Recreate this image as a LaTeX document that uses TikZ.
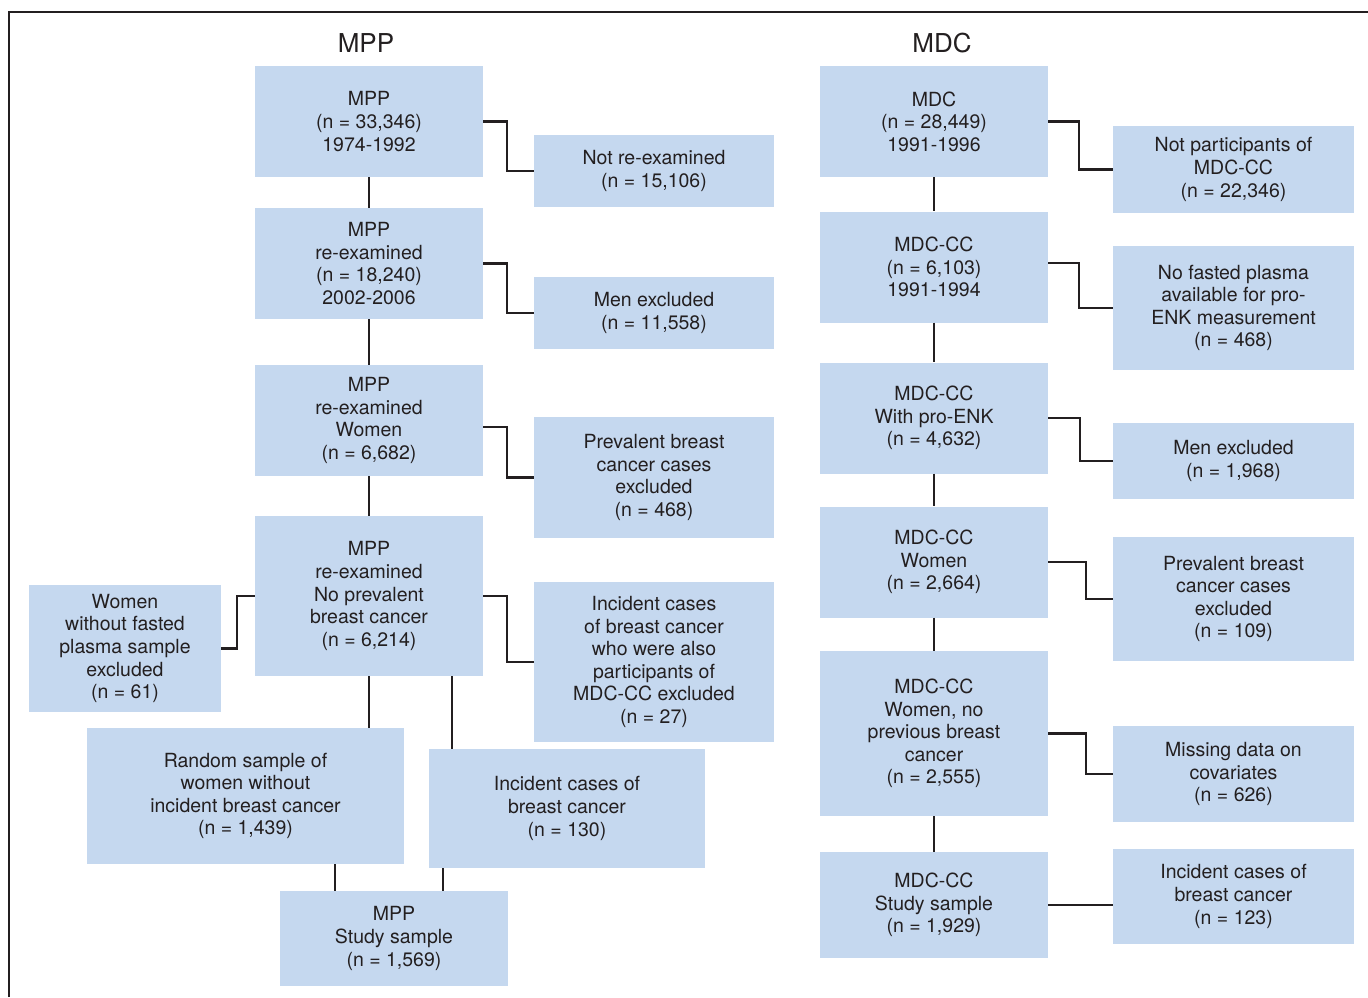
\documentclass[tikz,border=0pt]{standalone}
\usepackage{fontspec}
\setmainfont{TeX Gyre Heros}
\usepackage{xcolor}
\usetikzlibrary{calc, positioning}

\definecolor{boxblue}{RGB}{197,216,239}
\definecolor{inkgray}{RGB}{35,31,32}

\begin{document}
\begin{tikzpicture}[x=1pt, y=-1pt,
  every node/.style={text=inkgray, font={\fontsize{19.5}{22.6}\selectfont}},
  box/.style={fill=boxblue, align=center, inner sep=0pt},
  boxsize/.style 2 args={minimum width=#1pt, minimum height=#2pt},
  stage/.style={box, boxsize={228}{111}},
  excl/.style={box, minimum width=240pt},
  title/.style={font={\fontsize{26}{30}\selectfont}},
  link/.style={draw=inkgray, line width=2.5pt},
  elbow/.style={to path={-- ++(#1,0) |- (\tikztotarget)}},
  elbow/.default=24]

  \useasboundingbox (0,0) rectangle (1368,997);
  \draw [inkgray, line width=1.2pt] (9,997) |- (1368,12);

  % Titles of the two cohorts
  \node [title] (mpptitle) at (366,43) {MPP};
  \node [title] (mdctitle) at (942,43) {MDC};

  % MPP cohort: stages down the left column
  \node [stage] (mpp) at (369,121.5) {MPP\\(n = 33,346)\\1974-1992};
  \node [stage] (mppre) at (369,263.5)
    {MPP\\re-examined\\(n = 18,240)\\2002-2006};
  \node [stage] (mppwomen) at (369,420.5)
    {MPP\\re-examined\\Women\\(n = 6,682)};
  \node [stage, minimum height=160pt] (mppnoprev) at (369,596)
    {MPP\\re-examined\\No prevalent\\breast cancer\\(n = 6,214)};
  \node [box, boxsize={317}{136}] (mpprand) at (245.5,796)
    {Random sample of\\women without\\incident breast cancer\\(n = 1,439)};
  \node [box, boxsize={276}{119}] (mppinc) at (567,808.5)
    {Incident cases of\\breast cancer\\(n = 130)};
  \node [box, boxsize={228}{95}] (mppstudy) at (394,938.5)
    {MPP\\Study sample\\(n = 1,569)};

  % MPP cohort: exclusions
  \node [excl, minimum height=72pt] (notre) at (654,171)
    {Not re-examined\\(n = 15,106)};
  \node [excl, minimum height=72pt] (mppmen) at (654,313)
    {Men excluded\\(n = 11,558)};
  \node [excl, minimum height=121pt] (mppprev) at (654,477.5)
    {Prevalent breast\\cancer cases\\excluded\\(n = 468)};
  \node [excl, minimum height=160pt] (mppmdc) at (654,662)
    {Incident cases\\of breast cancer\\who were also\\participants of\\MDC-CC excluded\\(n = 27)};
  \node [box, boxsize={192}{127}] (nofasted) at (125,648.5)
    {Women\\without fasted\\plasma sample\\excluded\\(n = 61)};

  % MDC cohort: stages down the middle column
  \node [stage] (mdc) at (934,121.5) {MDC\\(n = 28,449)\\1991-1996};
  \node [stage] (mdccc) at (934,267) {MDC-CC\\(n = 6,103)\\1991-1994};
  \node [stage] (mdcenk) at (934,418) {MDC-CC\\With pro-ENK\\(n = 4,632)};
  \node [stage] (mdcwomen) at (934,562) {MDC-CC\\Women\\(n = 2,664)};
  \node [stage, minimum height=165pt] (mdcnoprev) at (934,733.5)
    {MDC-CC\\Women, no\\previous breast\\cancer\\(n = 2,555)};
  \node [stage, minimum height=106pt] (mdcstudy) at (934,905)
    {MDC-CC\\Study sample\\(n = 1,929)};

  % MDC cohort: exclusions
  \begin{scope}[excl/.append style={minimum width=241pt}]
    \node [excl, minimum height=87pt] (notcc) at (1233.5,169.5)
      {Not participants of\\MDC-CC\\(n = 22,346)};
    \node [excl, minimum height=124pt] (noplasma) at (1233.5,308)
      {No fasted plasma\\available for pro-\\ENK measurement\\(n = 468)};
    \node [excl, minimum height=76pt] (mdcmen) at (1233.5,461)
      {Men excluded\\(n = 1,968)};
    \node [excl, minimum height=124pt] (mdcprev) at (1233.5,599)
      {Prevalent breast\\cancer cases\\excluded\\(n = 109)};
    \node [excl, minimum height=96pt] (missing) at (1233.5,774)
      {Missing data on\\covariates\\(n = 626)};
    \node [excl, minimum height=95pt] (mdcinc) at (1233.5,896.5)
      {Incident cases of\\breast cancer\\(n = 123)};
  \end{scope}

  % x positions of the links below the split
  \coordinate (xinc) at (452,0);
  \coordinate (xrand) at (335,0);
  \coordinate (xcase) at (443,0);

  % Links between stages
  \draw [link]
    (mpp.south) edge (mppre.north)
    (mppre.south) edge (mppwomen.north)
    (mppwomen.south) edge (mppnoprev.north)
    (mppnoprev.south) edge (mppnoprev.south |- mpprand.north)
    (mppnoprev.south -| xinc) edge (mppinc.north -| xinc)
    (mpprand.south -| xrand) edge (mppstudy.north -| xrand)
    (mppinc.south -| xcase) edge (mppstudy.north -| xcase)
    (mdc.south) edge (mdccc.north)
    (mdccc.south) edge (mdcenk.north)
    (mdcenk.south) edge (mdcwomen.north)
    (mdcwomen.south) edge (mdcnoprev.north)
    (mdcnoprev.south) edge (mdcstudy.north)
    (mdcstudy.east) edge (mdcstudy.east -| mdcinc.west);

  % Links to the exclusions
  \draw [link]
    (mpp.east) edge [elbow] (notre.west)
    (mppre.east) edge [elbow] (mppmen.west)
    ([yshift=-6.5pt]mppwomen.east) edge [elbow] (mppprev.west)
    (mppnoprev.east) edge [elbow] (mppmdc.west)
    (mppnoprev.west) edge [elbow=-18] (nofasted.east)
    (mdc.east) edge [elbow=31] (notcc.west)
    ([yshift=4pt]mdccc.east) edge [elbow=31] (noplasma.west)
    (mdcenk.east) edge [elbow=32] (mdcmen.west)
    (mdcwomen.east) edge [elbow=38] (mdcprev.west)
    (mdcnoprev.east) edge [elbow=38] (missing.west);
\end{tikzpicture}
\end{document}
